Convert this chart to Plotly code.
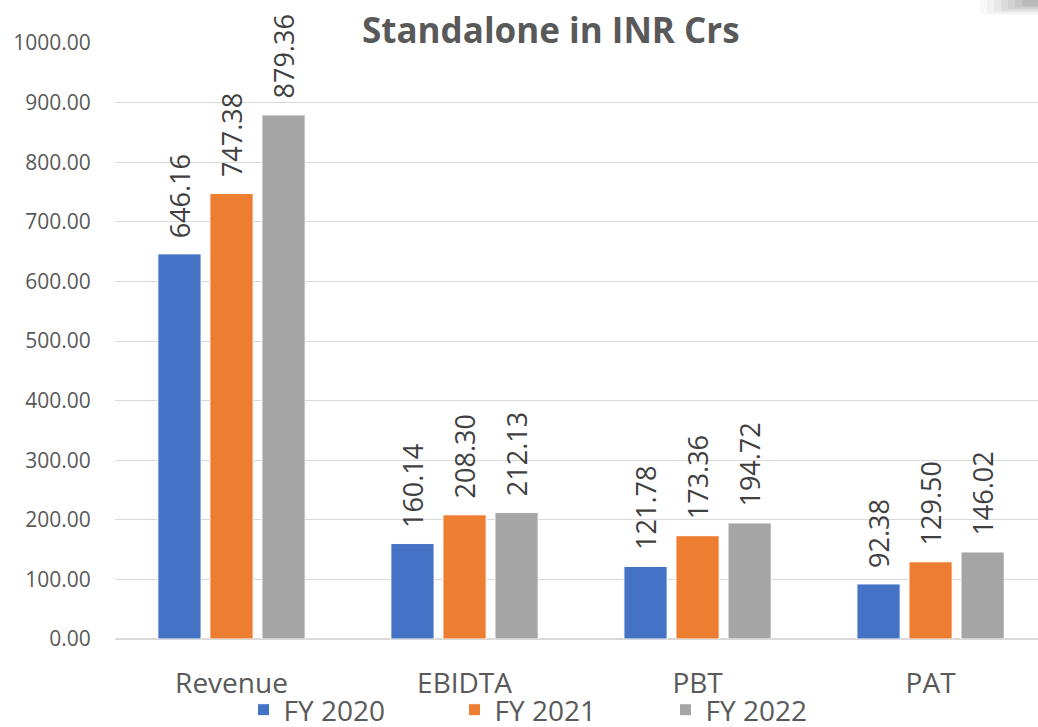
import plotly.graph_objects as go

categories = ["Revenue", "EBIDTA", "PBT", "PAT"]
fy2020 = [646.16, 160.14, 121.78, 92.38]
fy2021 = [747.38, 208.30, 173.36, 129.50]
fy2022 = [879.36, 212.13, 194.72, 146.02]
series_names = ["FY 2020", "FY 2021", "FY 2022"]
colors = ["#4472C4", "#ED7D31", "#A5A5A5"]
tick_vals = [0, 100, 200, 300, 400, 500, 600, 700, 800, 900, 1000]

FONT = "Open Sans"
BARGAP = 0.33
W, H = 1038, 735          # figure slightly taller than the window: bottom is cropped like the reference
L, T, PW, PH = 115, 43, 923, 596
fig = go.Figure()
annotations = []
all_series = [fy2020, fy2021, fy2022]
slot = (1 - BARGAP) / len(all_series)
for k, (name, vals, col) in enumerate(zip(series_names, all_series, colors)):
    fig.add_trace(go.Bar(
        x=categories, y=vals, name=name,
        marker=dict(color=col, line=dict(color="white", width=1)),
    ))
    for i, v in enumerate(vals):
        annotations.append(dict(
            x=i + (k - 1) * slot, y=v, xref="x", yref="y",
            text=f"{v:.2f}", textangle=-90, showarrow=False,
            xanchor="center", yanchor="bottom", yshift=14,
            font=dict(family=FONT, size=27, color="#404040")))

annotations.append(dict(text="<b>Standalone in INR Crs</b>", xref="paper", yref="paper",
                        x=(551 - L) / PW, y=(T + PH - 30) / PH, xanchor="center", yanchor="middle",
                        showarrow=False, font=dict(family=FONT, size=35, color="#595959")))

# faint corner shadow (top-right)
shapes = []
for i, op in enumerate([0.04, 0.05, 0.06, 0.07, 0.08, 0.09, 0.1]):
    x0 = 980 + i * 7
    y1 = 15 - i * 1.5
    shapes.append(dict(type="rect", xref="paper", yref="paper", layer="above",
                       x0=(x0 - L) / PW, x1=1.0, y0=(T + PH - y1) / PH, y1=(T + PH) / PH,
                       fillcolor=f"rgba(90,90,90,{op})", line=dict(width=0)))

fig.update_layout(
    width=W, height=H,
    margin=dict(l=L, r=W - L - PW, t=T, b=H - T - PH),
    paper_bgcolor="white", plot_bgcolor="white",
    barmode="group", bargap=BARGAP, bargroupgap=0.17,
    font=dict(family=FONT, color="#595959"),
    showlegend=True,
    legend=dict(orientation="h", x=(560 - L) / PW, xanchor="center", y=(T + PH - H) / PH, yanchor="bottom",
                bgcolor="rgba(0,0,0,0)",
                font=dict(family=FONT, size=28, color="#595959"),
                entrywidth=166, itemwidth=30, traceorder="normal"),
    annotations=annotations,
    shapes=shapes,
)
fig.update_xaxes(range=[-0.5, 3.461], showgrid=False, showline=False, ticks="outside",
                 ticklen=19, tickcolor="rgba(0,0,0,0)",
                 tickfont=dict(family=FONT, size=28, color="#595959"))
fig.update_yaxes(range=[0, 1000], tickvals=tick_vals, tickformat=".2f",
                 showgrid=True, gridcolor="#D9D9D9", gridwidth=1,
                 zeroline=True, zerolinecolor="#D9D9D9", zerolinewidth=2,
                 ticks="outside", ticklen=19, tickcolor="rgba(0,0,0,0)",
                 tickfont=dict(family=FONT, size=21, color="#595959"))

fig.write_html("out.html", config={"displayModeBar": False},
               post_script="document.body.style.margin='0';document.body.style.overflow='hidden';")
